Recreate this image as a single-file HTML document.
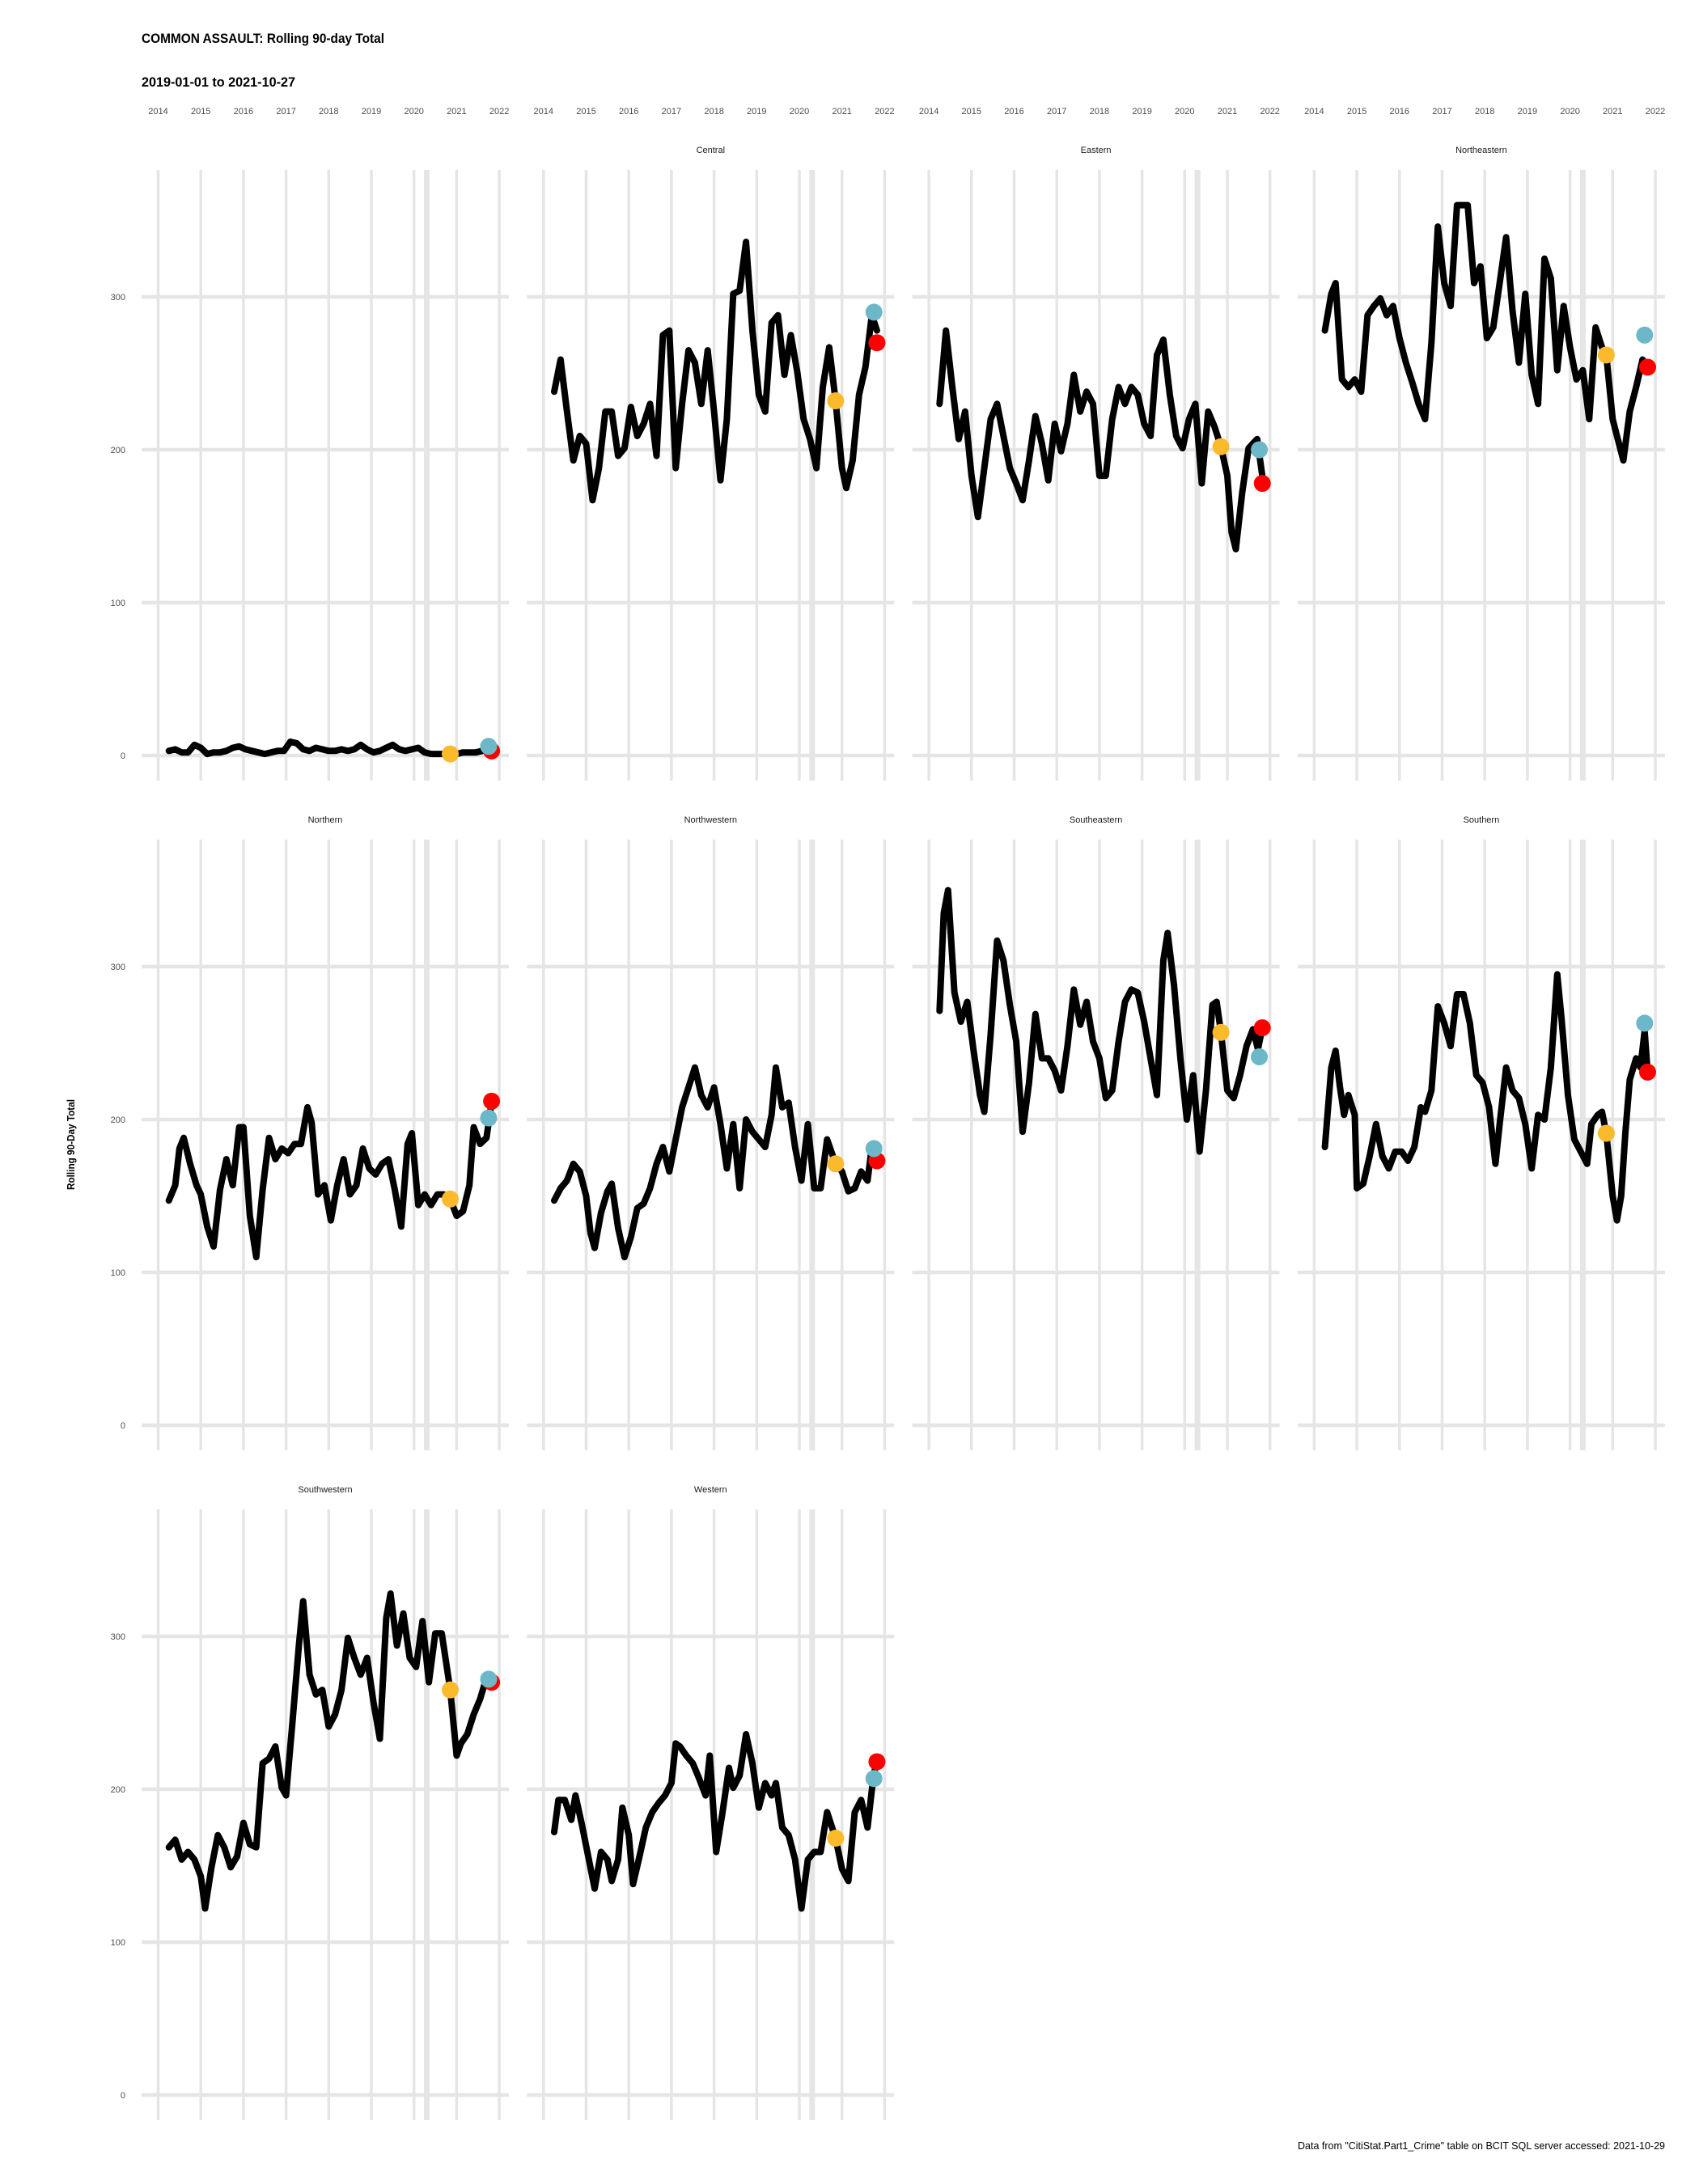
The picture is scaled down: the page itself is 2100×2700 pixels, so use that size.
<!DOCTYPE html>
<html><head><meta charset="utf-8"><title>COMMON ASSAULT: Rolling 90-day Total</title>
<style>html,body{margin:0;padding:0;background:#fff}svg{display:block}text{font-family:"Liberation Sans",sans-serif}</style>
</head><body>
<svg id="chart" xmlns="http://www.w3.org/2000/svg" width="2100" height="2700" viewBox="0 0 2100 2700">
<rect width="2100" height="2700" fill="#fff"/>
<text x="175" y="53" font-size="17" font-weight="bold" textLength="300" lengthAdjust="spacingAndGlyphs">COMMON ASSAULT: Rolling 90-day Total</text>
<text x="175" y="107" font-size="17" font-weight="bold" textLength="190" lengthAdjust="spacingAndGlyphs">2019-01-01 to 2021-10-27</text>
<text transform="translate(92,1415) rotate(-90)" text-anchor="middle" font-size="13" font-weight="bold" textLength="112" lengthAdjust="spacingAndGlyphs">Rolling 90-Day Total</text>
<text x="2058" y="2657" text-anchor="end" font-size="13" textLength="454" lengthAdjust="spacingAndGlyphs">Data from "CitiStat.Part1_Crime" table on BCIT SQL server accessed: 2021-10-29</text>
<g id="grid"></g><g id="lines"></g><g id="marks"></g>
</svg>
<script>
const NS = "http://www.w3.org/2000/svg";
const yearTicks = [2014,2015,2016,2017,2018,2019,2020,2021,2022];
const yTicks = [0,100,200,300];
const covidDate = 2020.3;
const panelNames = ["", "Central", "Eastern", "Northeastern", "Northern", "Northwestern", "Southeastern", "Southern", "Southwestern", "Western"];

const citywideT = [2014.25,2014.4,2014.55,2014.7,2014.85,2015.0,2015.15,2015.3,2015.45,2015.6,2015.75,2015.9,2016.05,2016.2,2016.35,2016.5,2016.65,2016.8,2016.95,2017.1,2017.25,2017.4,2017.55,2017.7,2017.85,2018.0,2018.15,2018.3,2018.45,2018.6,2018.75,2018.9,2019.05,2019.2,2019.35,2019.5,2019.65,2019.8,2019.95,2020.1,2020.25,2020.4,2020.55,2020.7,2020.85,2021.0,2021.15,2021.3,2021.45,2021.6,2021.75,2021.82];
const citywideV = [3,4,2,2,7,5,1,2,2,3,5,6,4,3,2,1,2,3,3,9,8,4,3,5,4,3,3,4,3,4,7,4,2,3,5,7,4,3,4,5,2,1,1,1,1,1,2,2,2,3,5,4];
const centralT = [2014.25,2014.4,2014.55,2014.7,2014.85,2015.0,2015.15,2015.3,2015.45,2015.6,2015.75,2015.9,2016.05,2016.2,2016.35,2016.5,2016.65,2016.8,2016.95,2017.1,2017.25,2017.4,2017.55,2017.7,2017.85,2018.0,2018.15,2018.3,2018.45,2018.6,2018.75,2018.9,2019.05,2019.2,2019.35,2019.5,2019.65,2019.8,2019.95,2020.1,2020.25,2020.4,2020.55,2020.7,2020.85,2021.0,2021.1,2021.25,2021.4,2021.55,2021.7,2021.82];
const centralV = [238,259,225,193,209,204,167,188,225,225,196,201,228,209,217,230,196,275,278,188,230,265,257,230,265,225,180,220,302,304,336,278,236,225,283,288,249,275,251,220,207,188,241,267,232,188,175,193,236,254,288,278];
const easternT = [2014.25,2014.4,2014.55,2014.7,2014.85,2015.0,2015.15,2015.3,2015.45,2015.6,2015.75,2015.9,2016.05,2016.2,2016.35,2016.5,2016.65,2016.8,2016.95,2017.1,2017.25,2017.4,2017.55,2017.7,2017.85,2018.0,2018.15,2018.3,2018.45,2018.6,2018.75,2018.9,2019.05,2019.2,2019.35,2019.5,2019.65,2019.8,2019.95,2020.1,2020.25,2020.4,2020.55,2020.7,2020.85,2021.0,2021.1,2021.2,2021.35,2021.5,2021.6,2021.7,2021.82];
const easternV = [230,278,241,207,225,183,156,188,220,230,209,188,178,167,193,222,204,180,217,199,217,249,225,238,230,183,183,220,241,230,241,236,217,209,262,272,236,209,201,220,230,178,225,215,202,183,146,135,172,201,204,207,183];
const northeasternT = [2014.25,2014.4,2014.5,2014.65,2014.8,2014.95,2015.1,2015.25,2015.4,2015.55,2015.7,2015.85,2016.0,2016.15,2016.3,2016.45,2016.6,2016.75,2016.9,2017.05,2017.2,2017.35,2017.5,2017.6,2017.75,2017.9,2018.05,2018.2,2018.35,2018.5,2018.65,2018.8,2018.95,2019.1,2019.25,2019.4,2019.55,2019.7,2019.85,2020.0,2020.15,2020.3,2020.45,2020.6,2020.75,2020.85,2021.0,2021.1,2021.25,2021.4,2021.55,2021.7,2021.82];
const northeasternV = [278,302,309,246,241,246,238,288,294,299,288,294,273,257,244,230,220,270,346,309,294,360,360,360,309,320,273,280,309,339,291,257,302,249,230,325,312,252,294,267,246,252,220,280,267,262,220,209,193,225,241,259,254];
const northernT = [2014.25,2014.4,2014.5,2014.6,2014.75,2014.9,2015.0,2015.15,2015.3,2015.45,2015.6,2015.75,2015.9,2016.0,2016.15,2016.3,2016.45,2016.6,2016.75,2016.9,2017.05,2017.2,2017.35,2017.5,2017.6,2017.75,2017.9,2018.05,2018.2,2018.35,2018.5,2018.65,2018.8,2018.95,2019.1,2019.25,2019.4,2019.55,2019.7,2019.85,2019.95,2020.1,2020.25,2020.4,2020.55,2020.7,2020.85,2021.0,2021.15,2021.3,2021.4,2021.55,2021.7,2021.82];
const northernV = [147,157,181,188,171,157,151,130,117,154,174,157,195,195,137,110,154,188,174,181,178,184,184,208,198,151,157,134,157,174,151,157,181,168,164,171,174,154,130,184,191,144,151,144,151,151,148,137,140,157,195,184,188,211];
const northwesternT = [2014.25,2014.4,2014.55,2014.7,2014.85,2015.0,2015.1,2015.2,2015.35,2015.5,2015.6,2015.75,2015.9,2016.05,2016.2,2016.35,2016.5,2016.65,2016.8,2016.95,2017.1,2017.25,2017.4,2017.55,2017.7,2017.85,2018.0,2018.15,2018.3,2018.45,2018.6,2018.75,2018.9,2019.05,2019.2,2019.35,2019.45,2019.6,2019.75,2019.9,2020.05,2020.2,2020.35,2020.5,2020.65,2020.85,2021.0,2021.15,2021.3,2021.45,2021.6,2021.7,2021.82];
const northwesternV = [147,155,160,171,166,150,126,116,139,153,158,129,110,123,142,145,155,171,182,166,187,208,221,234,216,208,221,197,168,197,155,200,192,187,182,203,234,208,211,182,160,197,155,155,187,171,166,153,155,166,160,182,173];
const southeasternT = [2014.25,2014.35,2014.45,2014.6,2014.75,2014.9,2015.05,2015.2,2015.3,2015.45,2015.6,2015.75,2015.9,2016.05,2016.2,2016.35,2016.5,2016.65,2016.8,2016.95,2017.1,2017.25,2017.4,2017.55,2017.7,2017.85,2018.0,2018.15,2018.3,2018.45,2018.6,2018.75,2018.9,2019.05,2019.2,2019.35,2019.5,2019.6,2019.75,2019.9,2020.05,2020.2,2020.35,2020.5,2020.65,2020.75,2020.85,2021.0,2021.15,2021.3,2021.45,2021.6,2021.72,2021.82];
const southeasternV = [271,335,350,283,264,277,245,216,205,256,317,304,275,251,192,224,269,240,240,232,219,248,285,262,277,251,240,214,219,251,277,285,283,264,240,216,304,322,288,240,200,229,179,219,275,277,257,219,214,229,248,259,246,260];
const southernT = [2014.25,2014.4,2014.5,2014.6,2014.7,2014.8,2014.95,2015.0,2015.15,2015.3,2015.45,2015.6,2015.75,2015.9,2016.05,2016.2,2016.35,2016.5,2016.6,2016.75,2016.9,2017.05,2017.2,2017.35,2017.5,2017.65,2017.8,2017.95,2018.1,2018.25,2018.35,2018.5,2018.65,2018.8,2018.95,2019.1,2019.25,2019.4,2019.55,2019.7,2019.8,2019.95,2020.1,2020.25,2020.4,2020.5,2020.65,2020.75,2020.85,2021.0,2021.1,2021.2,2021.3,2021.4,2021.55,2021.65,2021.75,2021.82];
const southernV = [182,234,245,222,203,216,203,155,158,176,197,176,168,179,179,173,182,208,205,219,274,263,248,282,282,263,229,224,208,171,197,234,219,214,197,168,203,200,234,295,266,216,187,179,171,197,203,205,191,150,134,150,192,226,240,234,258,231];
const southwesternT = [2014.25,2014.4,2014.55,2014.7,2014.85,2015.0,2015.1,2015.25,2015.4,2015.55,2015.7,2015.85,2016.0,2016.15,2016.3,2016.45,2016.6,2016.75,2016.9,2017.0,2017.15,2017.3,2017.4,2017.55,2017.7,2017.85,2018.0,2018.15,2018.3,2018.45,2018.6,2018.75,2018.9,2019.05,2019.2,2019.35,2019.45,2019.6,2019.75,2019.9,2020.05,2020.2,2020.35,2020.5,2020.65,2020.85,2021.0,2021.1,2021.25,2021.4,2021.55,2021.7,2021.82];
const southwesternV = [162,167,154,159,154,143,122,149,170,162,149,156,178,164,162,217,220,228,201,196,244,294,323,275,262,265,241,249,265,299,286,275,286,257,233,312,328,294,315,286,280,310,270,302,302,265,222,230,236,249,259,273,270];
const westernT = [2014.25,2014.35,2014.5,2014.65,2014.75,2014.9,2015.05,2015.2,2015.35,2015.5,2015.6,2015.75,2015.85,2016.0,2016.1,2016.25,2016.4,2016.55,2016.7,2016.85,2017.0,2017.1,2017.2,2017.35,2017.5,2017.65,2017.8,2017.9,2018.05,2018.2,2018.35,2018.45,2018.6,2018.75,2018.9,2019.05,2019.2,2019.35,2019.45,2019.6,2019.75,2019.9,2020.05,2020.2,2020.35,2020.5,2020.65,2020.85,2021.0,2021.15,2021.3,2021.45,2021.6,2021.72,2021.82];
const westernV = [172,193,193,180,196,177,156,135,159,154,140,154,188,170,138,156,175,185,191,196,204,230,228,222,217,207,196,222,159,185,214,201,209,236,217,188,204,196,204,175,170,154,122,154,159,159,185,168,148,140,185,193,175,204,221];

const seriesT = [citywideT, centralT, easternT, northeasternT, northernT, northwesternT, southeasternT, southernT, southwesternT, westernT];
const seriesV = [citywideV, centralV, easternV, northeasternV, northernV, northwesternV, southeasternV, southernV, southwesternV, westernV];
const markerDates = [2020.85, 2021.75, 2021.82];
const yellowV = [1, 232, 202, 262, 148, 171, 257, 191, 265, 168];
const blueV = [6, 290, 200, 275, 201, 181, 241, 263, 272, 207];
const redV = [3, 270, 178, 254, 212, 173, 260, 231, 270, 218];
const markerColors = ["#FBBA2B", "#6CB8C9", "#FF0000"];

const grid = document.getElementById('grid');
const lines = document.getElementById('lines');
const marks = document.getElementById('marks');
function mk(tag, attrs, parent){const e=document.createElementNS(NS,tag);for(const k in attrs)e.setAttribute(k,attrs[k]);parent.appendChild(e);return e;}

const colW = 476.3, rowH = 828, perYear = 52.7, per100 = 189;
function xScale(c, t){ return 195.5 + colW*c + perYear*(t-2014); }
function yScale(r, v){ return 934 + rowH*r - per100*v/100; }

for (let c=0;c<4;c++){
  yearTicks.forEach(yr=>{
    const t=mk('text',{x:xScale(c,yr),y:141,'text-anchor':'middle','font-size':11,fill:'#4d4d4d'},grid);
    
    
    t.textContent=yr;
  });
}
for (let r=0;r<3;r++){
  yTicks.forEach(v=>{
    const t=mk('text',{x:155,y:yScale(r,v)+4,'text-anchor':'end','font-size':11,fill:'#4d4d4d'},grid);
    
    
    t.textContent=v;
  });
}

panelNames.forEach((name,i)=>{
  const c=i%4, r=Math.floor(i/4);
  const left=175+colW*c, right=629+colW*c;
  const y0=yScale(r,0);
  const g=mk('g',{},grid);
  
  
  yTicks.forEach(v=>{
    const l=mk('line',{x1:left,x2:right,y1:yScale(r,v),y2:yScale(r,v),stroke:'#e5e5e5','stroke-width':4.5},g);
    
    
  });
  yearTicks.forEach(yr=>{
    const l=mk('line',{x1:xScale(c,yr),x2:xScale(c,yr),y1:y0-724,y2:y0+31,stroke:'#e5e5e5','stroke-width':3.5},g);
    
    
  });
  const cv=mk('line',{x1:xScale(c,covidDate),x2:xScale(c,covidDate),y1:y0-724,y2:y0+31,stroke:'#e5e5e5','stroke-width':7},g);
  
  
  if(name){
    const s=mk('text',{x:(left+right)/2,y:y0-745,'text-anchor':'middle','font-size':11,fill:'#1a1a1a'},g);
    
    
    s.textContent=name;
  }
  const T=seriesT[i], V=seriesV[i];
  const pts=T.map((t,k)=>xScale(c,t).toFixed(1)+','+yScale(r,V[k]).toFixed(1)).join(' ');
  const pl=mk('polyline',{points:pts,fill:'none',stroke:'#000','stroke-width':8,'stroke-linejoin':'round','stroke-linecap':'round'},lines);
  
  
  const mv=[yellowV[i],blueV[i],redV[i]];
  const order=[0,2,1];
  order.forEach(k=>{
    const d=mk('circle',{cx:xScale(c,markerDates[k]),cy:yScale(r,mv[k]),r:10.5,fill:markerColors[k]},marks);
    
    
  });
});
</script>
</body></html>
